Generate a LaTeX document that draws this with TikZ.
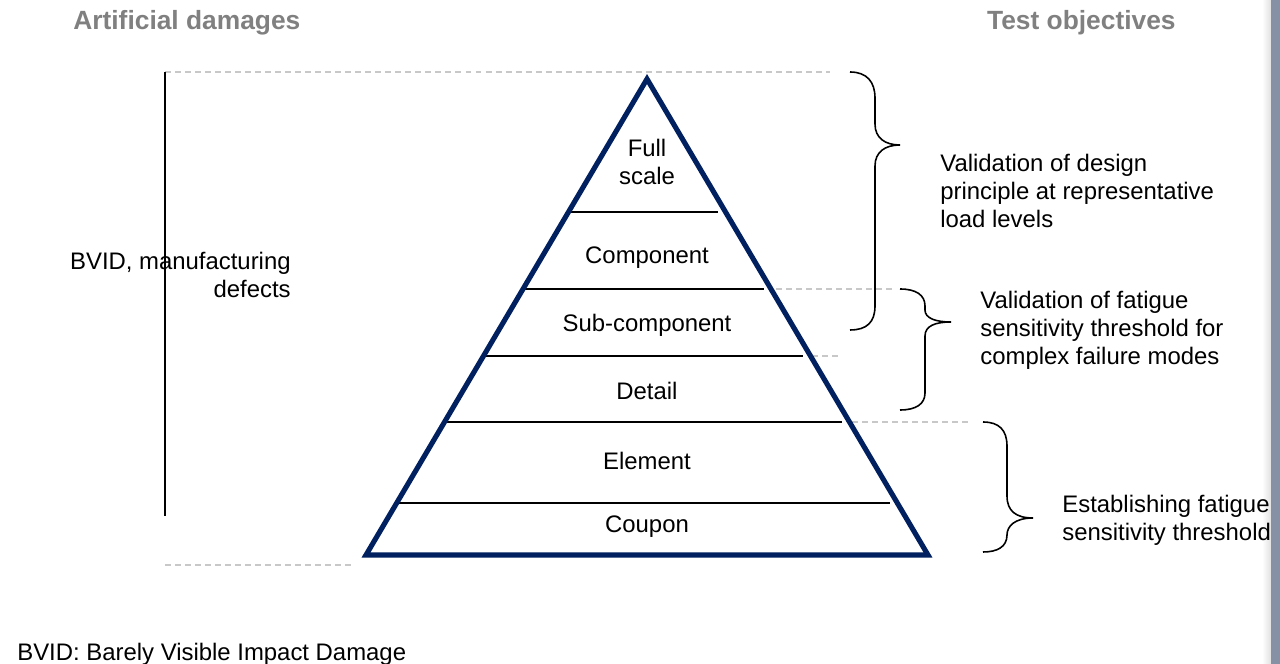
\documentclass[tikz,border=0pt]{standalone}
\usepackage{fontspec}
\setmainfont{Liberation Sans}
\usetikzlibrary{calc}
\definecolor{navy}{RGB}{0,32,96}
\definecolor{guidegray}{RGB}{200,200,200}
\definecolor{headgray}{RGB}{128,128,128}
\definecolor{barblue}{RGB}{134,145,165}

\begin{document}
\begin{tikzpicture}[
    x=0.2mm, y=-0.2mm,
    body/.style={font=\fontsize{13.6}{15.9}\selectfont, inner sep=0pt},
    head/.style={font=\fontsize{15}{18}\selectfont\bfseries, text=headgray, inner sep=0pt},
    guide/.style={guidegray, line width=1.1pt, dash pattern=on 3.4pt off 2.3pt},
    band/.style={black, line width=1.1pt, shorten >=4pt},
    brace/.style={black, line width=0.9pt}
]
\useasboundingbox (0,0) rectangle (1280,664);

% ---------- page edge shadow ----------
\shade[left color=white, right color=black!12] (1262,0) rectangle (1271,664);

% ---------- pyramid corners ----------
\coordinate (apex) at (647,79);
\coordinate (bl) at (366,555);
\coordinate (br) at (928,555);

% ---------- dashed guides ----------
\draw[guide] (165,72) -- (830,72);
\draw[guide] (165,565) -- (355,565);
\draw[guide] (776,289) -- (893,289);
\draw[guide] (812,356) -- (842,356);
\draw[guide] (852,422) -- (972,422);

% ---------- left bar ----------
\draw[black, line width=1.1pt] (165,72) -- (165,516);

% ---------- levels ----------
\foreach \y in {212,289,356,422,503}
  \draw[band] ($(apex)!{(\y-79)/476}!(bl)$) -- ($(apex)!{(\y-79)/476}!(br)$);

\draw[navy, line width=2.9pt, line join=miter] (apex) -- (bl) -- (br) -- cycle;

\node[body, align=center] (full) at (647,162) {Full\\scale};
\foreach \nm/\y/\txt in {comp/258/Component, sub/325/Sub-component,
    detail/391/Detail, elem/461/Element, coupon/527/Coupon}
  \node[body] (\nm) at (647,\y) {\txt};

% ---------- headers ----------
\node[head, anchor=west] (hdr-left) at (73,23) {Artificial damages};
\node[head, anchor=east] (hdr-right) at (1176,23) {Test objectives};

% ---------- damages ----------
\node[body, align=right, anchor=east] (bvid) at (291,275) {BVID, manufacturing\\defects};
\node[body, anchor=west] (note) at (17,654) {BVID: Barely Visible Impact Damage};

% ---------- braces ----------
\draw[brace] (850,72) .. controls (867,72) and (875,82) .. (875,98) -- (875,124)
  .. controls (875,138) and (885,145) .. (900,145)
  .. controls (885,145) and (875,152) .. (875,166) -- (875,306)
  .. controls (875,322) and (867,330) .. (850,330);
\draw[brace] (900,289) .. controls (916,289) and (925,295) .. (925,306) -- (925,310)
  .. controls (925,318) and (935,322) .. (951,322)
  .. controls (935,322) and (925,326) .. (925,336) -- (925,393)
  .. controls (925,404) and (916,410) .. (900,410);
\draw[brace] (983,422) .. controls (999,422) and (1007,430) .. (1007,446) -- (1007,496)
  .. controls (1007,511) and (1016,518) .. (1033,518)
  .. controls (1015,518) and (1007,526) .. (1007,535)
  .. controls (1007,547) and (997,552) .. (983,552);

% ---------- objectives ----------
\node[body, align=left, anchor=west] (obj-top) at (940,191)
  {Validation of design\\principle at representative\\load levels};
\node[body, align=left, anchor=west] (obj-mid) at (980,330)
  {Validation of fatigue\\sensitivity threshold for\\complex failure modes};
\node[body, align=left, anchor=west] (obj-low) at (1062,520)
  {Establishing fatigue\\sensitivity threshold};

% ---------- page edge ----------
\fill[barblue] (1271,0) rectangle (1280,664);

\end{tikzpicture}
\end{document}
